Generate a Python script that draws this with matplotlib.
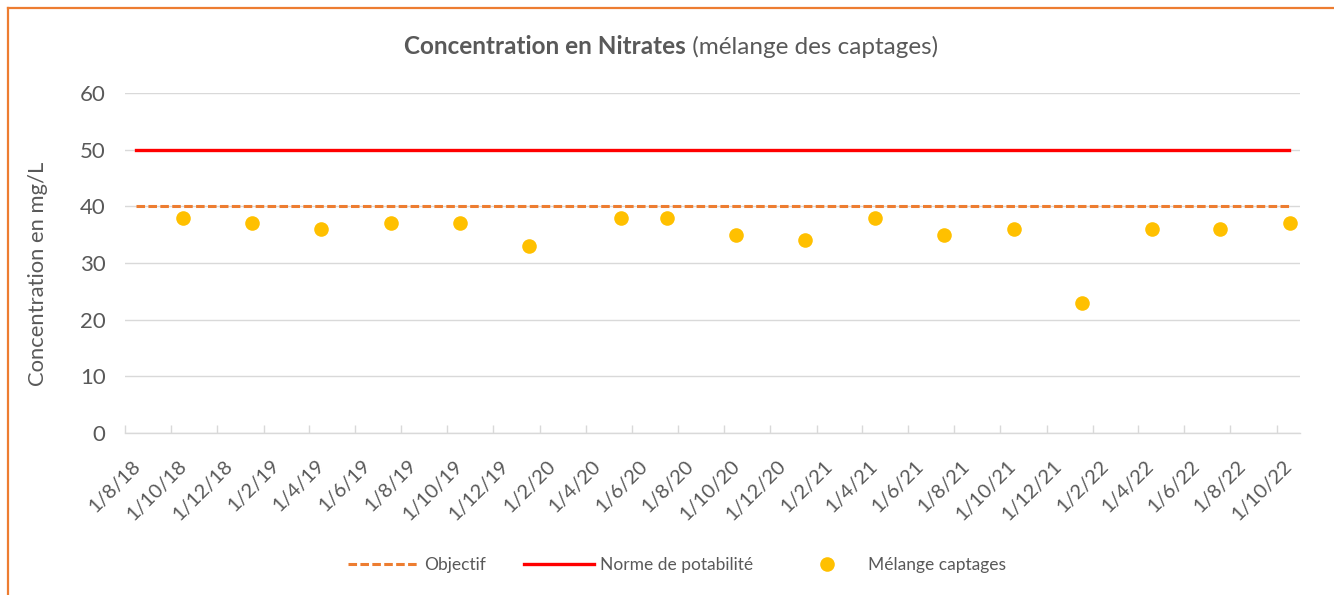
import matplotlib
matplotlib.use("Agg")
import matplotlib.pyplot as plt
import matplotlib.transforms as mtransforms
from matplotlib.lines import Line2D
import pandas as pd

# ---------------- data ----------------
sample_dates = ["2018-10-17", "2019-01-16", "2019-04-17", "2019-07-18", "2019-10-18",
                "2020-01-17", "2020-05-17", "2020-07-18", "2020-10-17", "2021-01-16",
                "2021-04-18", "2021-07-18", "2021-10-19", "2022-01-17", "2022-04-19",
                "2022-07-18", "2022-10-19"]
sample_values = [38, 37, 36, 37, 37, 33, 38, 38, 35, 34, 38, 35, 36, 23, 36, 36, 37]

limit_dates = ["2018-08-15", "2022-10-17"]
objectif_values = [40, 40]
norme_values = [50, 50]

tick_dates = pd.date_range("2018-08-01", "2022-10-01", freq="2MS")
tick_labels = [f"{d.day}/{d.month}/{d.year % 100}" for d in tick_dates]
y_ticks = [0, 10, 20, 30, 40, 50, 60]

title_bold = "Concentration en Nitrates"
title_regular = " (mélange des captages)"
y_label = "Concentration en mg/L"
legend_labels = ["Objectif", "Norme de potabilité", "Mélange captages"]

# ---------------- style ----------------
W, H = 1334, 595
DPI = 100
TXT = "#595959"
GRID = "#d9d9d9"
FONT = "Lato"
plt.rcParams["font.family"] = [FONT, "DejaVu Sans"]

fig = plt.figure(figsize=(W / DPI, H / DPI), dpi=DPI)
fig.patch.set_facecolor("white")

left, right, top, bottom = 125, 1300, 93, 433
ax = fig.add_axes([left / W, 1 - bottom / H, (right - left) / W, (bottom - top) / H])

sd = pd.to_datetime(sample_dates)
ld = pd.to_datetime(limit_dates)

ax.plot(ld, objectif_values, color="#ED7D31", lw=2.2, dashes=(2.8, 1.1),
        solid_capstyle="butt", dash_capstyle="butt", zorder=3, label=legend_labels[0])
ax.plot(ld, norme_values, color="#FF0000", lw=2.4, zorder=3, label=legend_labels[1])
ax.plot(sd, sample_values, linestyle="none", marker="o", markersize=10.5,
        color="#FFC000", markeredgewidth=0, zorder=4, label=legend_labels[2])

ax.set_xlim(pd.Timestamp("2018-08-01"), pd.Timestamp("2022-11-01"))
ax.set_ylim(0, 60)
ax.set_yticks(y_ticks)
ax.yaxis.grid(True, color=GRID, lw=1.0)
ax.set_axisbelow(True)

for s in ["top", "right", "left"]:
    ax.spines[s].set_visible(False)
ax.spines["bottom"].set_color(GRID)
ax.spines["bottom"].set_linewidth(1.0)

ax.set_xticks(tick_dates)
ax.set_xticklabels(tick_labels, rotation=45, ha="right", va="center",
                   rotation_mode="anchor", fontsize=14.5, color=TXT)
ax.tick_params(axis="x", direction="in", length=5.8, width=1.0, color=GRID, pad=0)
ax.tick_params(axis="y", length=0, pad=14, labelsize=16, labelcolor=TXT)

off = mtransforms.ScaledTranslation(0.125, -0.30, fig.dpi_scale_trans)
for lab in ax.get_xticklabels():
    lab.set_transform(lab.get_transform() + off)

fig.text(38 / W, 1 - 274 / H, y_label, rotation=90, ha="center", va="center",
         fontsize=15.8, color=TXT)

# title (bold + regular, centred together)
t1 = fig.text(0, 1 - 47 / H, title_bold, fontsize=17.5, fontweight="bold", color=TXT,
              ha="left", va="center")
t2 = fig.text(0, 1 - 47 / H, title_regular, fontsize=17.5, color=TXT,
              ha="left", va="center")
fig.canvas.draw()
r = fig.canvas.get_renderer()
w1 = t1.get_window_extent(r).width
w2 = t2.get_window_extent(r).width
x0 = 671 - (w1 + w2) / 2
t1.set_x(x0 / W)
t2.set_x((x0 + w1) / W)

# legend
fs_leg = 12.5
handles, labels = ax.get_legend_handles_labels()
leg = fig.legend(handles, labels, loc="center", bbox_to_anchor=(677 / W, 1 - 565 / H),
                 ncol=3, frameon=False, fontsize=fs_leg,
                 handlelength=70 / (fs_leg * DPI / 72), handletextpad=0.35,
                 columnspacing=38 / (fs_leg * DPI / 72), labelcolor=TXT)

# orange frame
fig.add_artist(Line2D([8 / W, 1], [1 - 8 / H, 1 - 8 / H], color="#ED7D31", lw=1.6,
                      transform=fig.transFigure))
fig.add_artist(Line2D([8 / W, 8 / W], [1 - 8 / H, 0], color="#ED7D31", lw=1.6,
                      transform=fig.transFigure))

fig.savefig("out.png", dpi=DPI)
